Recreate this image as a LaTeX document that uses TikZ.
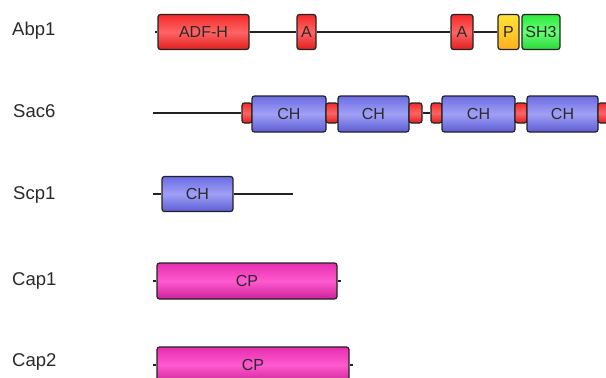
\documentclass[tikz,border=0pt]{standalone}
\usepackage{fontspec}
\setmainfont{Liberation Sans}
\usepackage{tikz}
\usetikzlibrary{calc}
\usetikzlibrary{shapes}

\definecolor{txtgray}{HTML}{2A2A2A}
\definecolor{linegray}{HTML}{222222}
\definecolor{redtop}{HTML}{F42A2A}
\definecolor{redmid}{HTML}{FF6464}
\definecolor{redbot}{HTML}{E01E1E}
\definecolor{bluetop}{HTML}{6C6CE4}
\definecolor{bluemid}{HTML}{A0A0F6}
\definecolor{bluebot}{HTML}{5C5CD4}
\definecolor{pinktop}{HTML}{E62EB0}
\definecolor{pinkmid}{HTML}{FF5ACF}
\definecolor{pinkbot}{HTML}{CC2298}
\definecolor{yeltop}{HTML}{FFE436}
\definecolor{yelbot}{HTML}{FFB020}
\definecolor{grntop}{HTML}{2EEA3E}
\definecolor{grnmid}{HTML}{66FF74}
\definecolor{grnbot}{HTML}{28D838}

\tikzset{
  protbox/.style={draw=linegray, line width=1.2pt, rounded corners=2.5pt, inner sep=0pt,
    minimum height=35, font=\fontsize{16}{16}\selectfont, text=txtgray},
  redbox/.style={protbox, top color=redtop, bottom color=redbot, middle color=redmid},
  bluebox/.style={protbox, top color=bluetop, bottom color=bluebot, middle color=bluemid},
  pinkbox/.style={protbox, top color=pinktop, bottom color=pinkbot, middle color=pinkmid},
  yellowbox/.style={protbox, top color=yeltop, bottom color=yelbot},
  greenbox/.style={protbox, top color=grntop, bottom color=grnbot, middle color=grnmid},
  linker/.style={redbox, minimum height=20},
  backbone/.style={draw=linegray, line width=1.2pt},
  protname/.style={anchor=base west, inner sep=0pt, font=\fontsize{18.5}{18.5}\selectfont, text=txtgray}
}

\begin{document}
\begin{tikzpicture}[x=1pt, y=-1pt]
  \useasboundingbox (0,0) rectangle (606,378);

  % protein names
  \node[protname] (abp) at (12,35) {Abp1};
  \node[protname] (sac) at (13,117) {Sac6};
  \node[protname] (scp) at (13,199) {Scp1};
  \node[protname] (capa) at (12,285) {Cap1};
  \node[protname] (capb) at (12,366) {Cap2};

  % Abp1
  \coordinate (abpN) at (155,32);
  \node[redbox, minimum width=91] (adfh) at (203.5,32) {ADF-H};
  \node[redbox, minimum width=19] (acid1) at (306.5,32) {A};
  \node[redbox, minimum width=22] (acid2) at (462,32) {A};
  \node[yellowbox, minimum width=21] (prol) at (508.5,32) {P};
  \node[greenbox, minimum width=38] (shthree) at (541,32) {SH3};
  \draw[backbone] (abpN) -- (adfh.west);
  \draw[backbone] (adfh.east) -- (acid1.west);
  \draw[backbone] (acid1.east) -- (acid2.west);
  \draw[backbone] (acid2.east) -- (prol.west);

  % Sac6
  \coordinate (sacN) at (153,113);
  \node[linker, minimum width=10] (lnk1) at (247,113) {};
  \node[bluebox, minimum width=74, minimum height=36] (chA) at (289,114) {CH};
  \node[linker, minimum width=12] (lnk2) at (332,113) {};
  \node[bluebox, minimum width=71, minimum height=36] (chB) at (373.5,114) {CH};
  \node[linker, minimum width=13] (lnk3) at (415.5,113) {};
  \node[linker, minimum width=11] (lnk4) at (436.5,113) {};
  \node[bluebox, minimum width=73, minimum height=36] (chC) at (478.5,114) {CH};
  \node[linker, minimum width=12] (lnk5) at (521,113) {};
  \node[bluebox, minimum width=71, minimum height=36] (chD) at (562.5,114) {CH};
  \node[linker, minimum width=14] (lnk6) at (605,113) {};
  \draw[backbone] (sacN) -- (lnk1.west);
  \draw[backbone] (lnk3.east) -- (lnk4.west);

  % Scp1
  \coordinate (scpN) at (153,194);
  \coordinate (scpC) at (293,194);
  \node[bluebox, minimum width=71] (chE) at (197.5,194) {CH};
  \draw[backbone] (scpN) -- (chE.west);
  \draw[backbone] (chE.east) -- (scpC);

  % Cap1 and Cap2
  \coordinate (capaN) at (153,281);
  \coordinate (capaC) at (341,281);
  \node[pinkbox, minimum width=180, minimum height=36] (cpA) at (247,281) {CP};
  \draw[backbone] (capaN) -- (cpA.west);
  \draw[backbone] (cpA.east) -- (capaC);

  \coordinate (capbN) at (153,365);
  \coordinate (capbC) at (353,365);
  \node[pinkbox, minimum width=192, minimum height=36] (cpB) at (253,365) {CP};
  \draw[backbone] (capbN) -- (cpB.west);
  \draw[backbone] (cpB.east) -- (capbC);
\end{tikzpicture}
\end{document}
